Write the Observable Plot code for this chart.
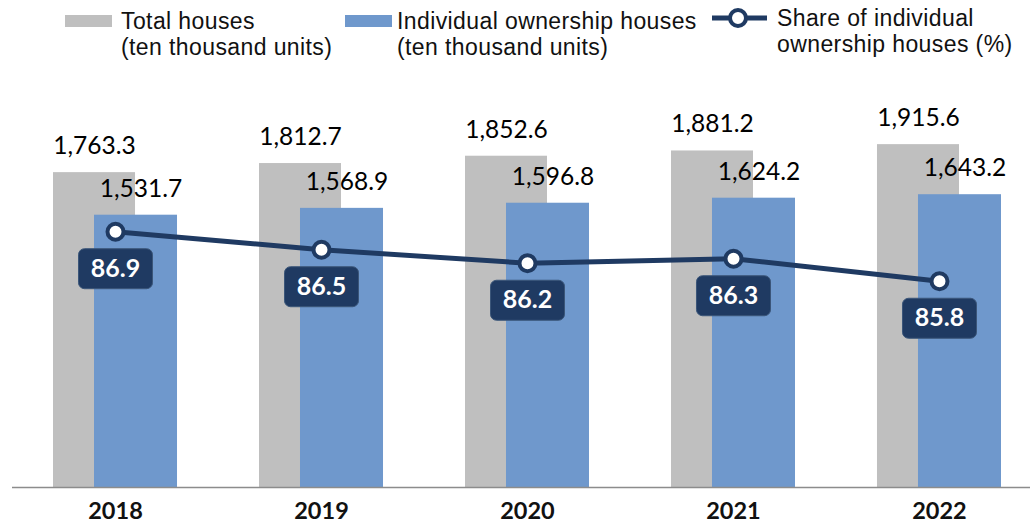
<!DOCTYPE html>
<html><head><meta charset="utf-8">
<script src="https://cdn.jsdelivr.net/npm/d3@7"></script>
<script src="https://cdn.jsdelivr.net/npm/@observablehq/plot@0.6"></script>
<style>
body{margin:0;background:#fff;width:1034px;height:525px;overflow:hidden}
#legend{position:relative;height:70px;width:1034px;font-family:"Liberation Sans",Arial,sans-serif;color:#111}
.sw{position:absolute;top:15px;width:47px;height:12px}
.lt{position:absolute;font-size:23px;line-height:25.8px;letter-spacing:0.4px;white-space:nowrap}
#chart svg{display:block}
</style></head><body>
<div id="legend"></div>
<div id="chart"></div>
<script>
// ---- data ----
const years = ["2018", "2019", "2020", "2021", "2022"];
const totalHouses = [1763.3, 1812.7, 1852.6, 1881.2, 1915.6];
const individualHouses = [1531.7, 1568.9, 1596.8, 1624.2, 1643.2];
const individualShare = [86.9, 86.5, 86.2, 86.3, 85.8];
const legendLabels = [
  ["Total houses", "(ten thousand units)"],
  ["Individual ownership houses", "(ten thousand units)"],
  ["Share of individual", "ownership houses (%)"]
];

// ---- style ----
const grayColor = "#bfbfbf";
const blueColor = "#6f98cc";
const navy = "#1f3a62";

// ---- legend ----
const legend = document.getElementById("legend");
function addText(lines, left, top) {
  const d = document.createElement("div");
  d.className = "lt";
  d.style.left = left + "px";
  d.style.top = top + "px";
  d.innerHTML = lines.join("<br>");
  legend.appendChild(d);
}
function addSwatch(color, left) {
  const s = document.createElement("div");
  s.className = "sw";
  s.style.left = left + "px";
  s.style.background = color;
  legend.appendChild(s);
}
addSwatch(grayColor, 65);
addText(legendLabels[0], 121, 9);
addSwatch(blueColor, 345);
addText(legendLabels[1], 397, 9);
const ns = "http://www.w3.org/2000/svg";
const lsvg = document.createElementNS(ns, "svg");
lsvg.setAttribute("width", 60); lsvg.setAttribute("height", 30);
lsvg.style.position = "absolute"; lsvg.style.left = "710px"; lsvg.style.top = "4px";
lsvg.innerHTML = `<line x1="2" x2="57" y1="14" y2="14" stroke="${navy}" stroke-width="5"/><circle cx="28" cy="14" r="8" fill="#fff" stroke="${navy}" stroke-width="4"/>`;
legend.appendChild(lsvg);
addText(legendLabels[2], 777, 6);

// ---- chart ----
const data = years.map((year, i) => ({year, total: totalHouses[i], indiv: individualHouses[i], share: individualShare[i]}));
const yDomain = [50, 2319];
const shareDomain = [81.22, 90.48];
const shareToY = d3.scaleLinear(shareDomain, yDomain);
const fmt = d3.format(",.1f");

const roundBox = {
  draw(ctx) {
    const w = 37, h = 20, r = 6;
    ctx.moveTo(-w + r, -h);
    ctx.lineTo(w - r, -h); ctx.arcTo(w, -h, w, -h + r, r);
    ctx.lineTo(w, h - r); ctx.arcTo(w, h, w - r, h, r);
    ctx.lineTo(-w + r, h); ctx.arcTo(-w, h, -w, h - r, r);
    ctx.lineTo(-w, -h + r); ctx.arcTo(-w, -h, -w + r, -h, r);
    ctx.closePath();
  }
};

const chart = Plot.plot({
  width: 1034,
  height: 455,
  marginLeft: 12,
  marginRight: 4,
  marginTop: 0,
  marginBottom: 38,
  style: {fontFamily: "Lato, sans-serif", background: "#fff", color: "#111"},
  x: {domain: years, range: [53, 1001], paddingInner: 0.398, paddingOuter: 0, round: false, label: null},
  y: {domain: yDomain, axis: null},
  marks: [
    Plot.barY(data, {x: "year", y1: yDomain[0], y2: "total", fill: grayColor, insetRight: 42, insetLeft: 0}),
    Plot.barY(data, {x: "year", y1: yDomain[0], y2: "indiv", fill: blueColor, insetLeft: 41, insetRight: 0}),
    Plot.ruleY([yDomain[0]], {stroke: "#8c8c8c", strokeWidth: 1.5}),
    Plot.text(data, {x: "year", y: "total", text: d => fmt(d.total), dx: -21, dy: -18.5, lineAnchor: "bottom", fontSize: 24.5, fill: "#000"}),
    Plot.text(data, {x: "year", y: "indiv", text: d => fmt(d.indiv), dx: 25.5, dy: -18.5, lineAnchor: "bottom", fontSize: 24.5, fill: "#000"}),
    Plot.line(data, {x: "year", y: d => shareToY(d.share), stroke: navy, strokeWidth: 5}),
    Plot.dot(data, {x: "year", y: d => shareToY(d.share), r: 8, fill: "#fff", stroke: navy, strokeWidth: 4}),
    Plot.dot(data, {x: "year", y: d => shareToY(d.share), r: 10, symbol: roundBox, fill: navy, stroke: "#3b5679", strokeWidth: 1, dy: 37}),
    Plot.text(data, {x: "year", y: d => shareToY(d.share), text: d => d.share.toFixed(1), dy: 37, lineAnchor: "middle", fontSize: 25, fontWeight: "bold", fill: "#fff"}),
    Plot.axisX({tickSize: 0, tickPadding: 15, fontSize: 23.5, fontWeight: "bold", fill: "#111", label: null})
  ]
});
document.getElementById("chart").appendChild(chart);
</script>
</body></html>
